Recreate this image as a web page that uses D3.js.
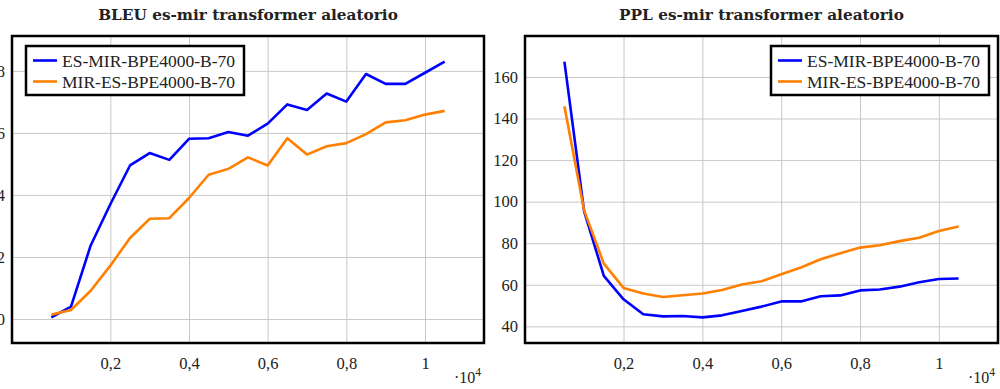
<!DOCTYPE html>
<html>
<head>
<meta charset="utf-8">
<script src="https://cdn.jsdelivr.net/npm/d3@7"></script>
<style>
  html, body { margin: 0; padding: 0; background: #fff; }
  svg { display: block; }
</style>
</head>
<body>
<svg id="chart" width="1000" height="389"></svg>
<script>
// Training steps (x axis, shown in units of 10^4)
const steps = [500, 1000, 1500, 2000, 2500, 3000, 3500, 4000, 4500, 5000, 5500,
               6000, 6500, 7000, 7500, 8000, 8500, 9000, 9500, 10000, 10500];

// BLEU scores
const bleuEsMir = [0.05, 0.40, 2.37, 3.70, 4.95, 5.35, 5.13, 5.81, 5.83, 6.03, 5.91,
                   6.30, 6.92, 6.74, 7.27, 7.01, 7.90, 7.58, 7.58, 7.94, 8.30];
const bleuMirEs = [0.14, 0.29, 0.91, 1.72, 2.61, 3.23, 3.25, 3.90, 4.65, 4.84, 5.21,
                   4.95, 5.83, 5.30, 5.57, 5.67, 5.96, 6.34, 6.41, 6.59, 6.71];

// Perplexity
const pplEsMir = [167.4, 95.3, 64.3, 53.0, 45.8, 44.8, 45.0, 44.3, 45.3, 47.4, 49.5,
                  52.0, 52.0, 54.5, 54.9, 57.3, 57.7, 59.1, 61.2, 62.8, 63.0];
const pplMirEs = [145.9, 95.8, 70.2, 58.5, 55.8, 54.1, 55.0, 55.8, 57.5, 60.1, 61.7,
                  65.1, 68.3, 72.3, 75.2, 77.9, 79.0, 81.0, 82.6, 85.9, 88.0];

const seriesNames = ["ES-MIR-BPE4000-B-70", "MIR-ES-BPE4000-B-70"];
const seriesColors = ["#0000ff", "#ff8000"];

const xTicks = [2000, 4000, 6000, 8000, 10000];
const xTickLabels = ["0,2", "0,4", "0,6", "0,8", "1"];
const bleuTicks = [0, 2, 4, 6, 8];
const pplTicks = [40, 60, 80, 100, 120, 140, 160];

const titles = ["BLEU es-mir transformer aleatorio", "PPL es-mir transformer aleatorio"];

const SERIF = '"Liberation Serif", "Times New Roman", "DejaVu Serif", serif';
const TITLE_FONT = '"DejaVu Serif", "Liberation Serif", serif';

const svg = d3.select("#chart").attr("font-family", SERIF);

// Pad a domain by 10% of its span on each side
function enlarge(lo, hi) {
  const pad = (hi - lo) * 0.1;
  return [lo - pad, hi + pad];
}

function styleText(sel, size, family = SERIF) {
  sel.attr("font-family", family)
     .style("font-family", family)
     .style("font-size", size)
     .attr("fill", "#222");
}

function drawPanel(opts) {
  const { left, right, top, bottom, series, yTicks, title, legendSide } = opts;
  const g = svg.append("g");

  const x = d3.scaleLinear()
    .domain(enlarge(d3.min(steps), d3.max(steps)))
    .range([left, right]);
  const allY = series.flat();
  const y = d3.scaleLinear()
    .domain(enlarge(d3.min(allY), d3.max(allY)))
    .range([bottom, top]);

  // grid
  g.append("g")
    .attr("transform", `translate(0,${bottom})`)
    .call(d3.axisBottom(x).tickValues(xTicks).tickSize(-(bottom - top)).tickFormat(""))
    .call(a => a.select(".domain").remove())
    .call(a => a.selectAll("line").attr("stroke", "#c8c8c8").attr("stroke-width", 1));
  g.append("g")
    .attr("transform", `translate(${left},0)`)
    .call(d3.axisLeft(y).tickValues(yTicks).tickSize(-(right - left)).tickFormat(""))
    .call(a => a.select(".domain").remove())
    .call(a => a.selectAll("line").attr("stroke", "#c8c8c8").attr("stroke-width", 1));

  // x tick labels
  g.append("g")
    .attr("transform", `translate(0,${bottom})`)
    .call(d3.axisBottom(x).tickValues(xTicks).tickSize(0).tickPadding(14)
      .tickFormat((d, i) => xTickLabels[i]))
    .call(a => a.select(".domain").remove())
    .call(a => styleText(a.selectAll("text"), "16.5px"));

  // y tick labels
  g.append("g")
    .attr("transform", `translate(${left},0)`)
    .call(d3.axisLeft(y).tickValues(yTicks).tickSize(0).tickPadding(7))
    .call(a => a.select(".domain").remove())
    .call(a => styleText(a.selectAll("text"), "16.5px"));

  // lines
  const line = d3.line().x((d, i) => x(steps[i])).y(d => y(d));
  series.forEach((s, k) => {
    g.append("path")
      .datum(s)
      .attr("d", line)
      .attr("fill", "none")
      .attr("stroke", seriesColors[k])
      .attr("stroke-width", 2.6)
      .attr("stroke-linejoin", "round");
  });

  // frame
  g.append("rect")
    .attr("x", left).attr("y", top)
    .attr("width", right - left).attr("height", bottom - top)
    .attr("fill", "none").attr("stroke", "#000").attr("stroke-width", 2.5);

  // title
  g.append("text")
    .attr("x", (left + right) / 2).attr("y", 20)
    .attr("text-anchor", "middle")
    .call(t => styleText(t, "15.3px", TITLE_FONT))
    .style("font-weight", "bold")
    .text(title);

  // exponent label
  const ex = g.append("text")
    .attr("x", right - 30).attr("y", 383)
    .call(t => styleText(t, "16px"));
  ex.append("tspan").text("\u00b710");
  ex.append("tspan").attr("dy", -7).style("font-size", "11.5px").text("4");

  // legend
  const lw = 218, lh = 49;
  const lx = legendSide === "left" ? left + 14 : right - 9 - lw;
  const ly = top + 10;
  const lg = g.append("g").attr("transform", `translate(${lx},${ly})`);
  lg.append("rect")
    .attr("width", lw).attr("height", lh)
    .attr("fill", "#fff").attr("stroke", "#000").attr("stroke-width", 2.5);
  seriesNames.forEach((name, k) => {
    const cy = 14.5 + k * 21;
    lg.append("line")
      .attr("x1", 7).attr("x2", 31).attr("y1", cy).attr("y2", cy)
      .attr("stroke", seriesColors[k]).attr("stroke-width", 2.6);
    lg.append("text")
      .attr("x", 36).attr("y", cy).attr("dy", "0.35em")
      .call(t => styleText(t, "17.5px"))
      .text(name);
  });
}

drawPanel({
  left: 12, right: 484, top: 36, bottom: 343,
  series: [bleuEsMir, bleuMirEs], yTicks: bleuTicks,
  title: titles[0], legendSide: "left"
});
drawPanel({
  left: 525, right: 998, top: 36, bottom: 343,
  series: [pplEsMir, pplMirEs], yTicks: pplTicks,
  title: titles[1], legendSide: "right"
});
</script>
</body>
</html>
